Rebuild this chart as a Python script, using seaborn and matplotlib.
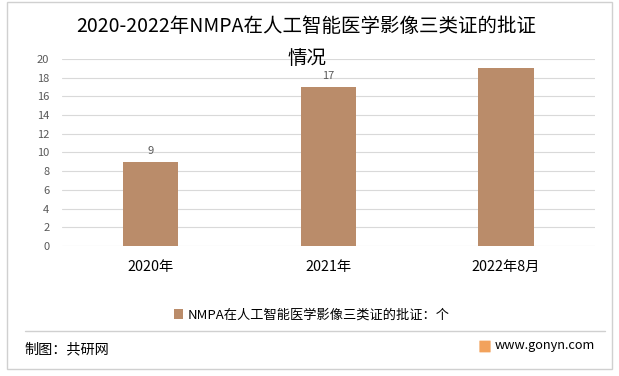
import matplotlib
matplotlib.use("Agg")
import matplotlib.pyplot as plt
import seaborn as sns
import pandas as pd
from matplotlib.patches import Rectangle, FancyBboxPatch
from matplotlib.lines import Line2D

# Data
categories = ["2020年", "2021年", "2022年8月"]
approvals = [9, 17, 19]
bar_labels = ["9", "17", ""]
series_name = "NMPA在人工智能医学影像三类证的批证：个"

sns.set_theme(style="white")
plt.rcParams["font.family"] = ["Noto Sans CJK SC", "DejaVu Sans"]

bar_color = "#BA8C6A"
grid_color = "#D9D9D9"
text_color = "#595959"

fig = plt.figure(figsize=(6.19, 3.76), dpi=100)
ax = fig.add_axes([0.100, 0.346, 0.861, 0.497])

df = pd.DataFrame({"year": categories, "value": approvals})
sns.barplot(data=df, x="year", y="value", color=bar_color, width=0.31,
            saturation=1, ax=ax, label=series_name, zorder=3, linewidth=0)

for i, (v, lab) in enumerate(zip(approvals, bar_labels)):
    if lab:
        ax.text(i, v + 0.6, lab, ha="center", va="bottom", fontsize=8, color=text_color)

ax.set_ylim(0, 20)
ax.set_yticks(range(0, 21, 2))
ax.yaxis.grid(True, color=grid_color, linewidth=0.8, zorder=0)
ax.set_axisbelow(True)
for s in ax.spines.values():
    s.set_visible(False)
ax.tick_params(axis="y", labelsize=8, colors=text_color, length=0, pad=9)
ax.tick_params(axis="x", labelsize=10.3, colors="#000000", length=0, pad=10)
ax.set_xlabel("")
ax.set_ylabel("")

fig.text(306 / 619, 1 - 27 / 376, "2020-2022年NMPA在人工智能医学影像三类证的批证",
         ha="center", va="center", fontsize=14, color="#000000")
fig.text(307 / 619, 1 - 59 / 376, "情况", ha="center", va="center", fontsize=14,
         color="#000000")

# legend
leg = ax.legend(loc="center", bbox_to_anchor=(0.469, -0.37), frameon=False,
                fontsize=9.5, handlelength=0.7, handleheight=0.7, handletextpad=0.4)
for t in leg.get_texts():
    t.set_color("#000000")

# outer frame and footer
fig.add_artist(Rectangle((7 / 619, 1 - 369 / 376), 605 / 619, 367 / 376,
                         transform=fig.transFigure, fill=False,
                         edgecolor="#D0D0D0", linewidth=1))
fig.add_artist(Line2D([25 / 619, 605 / 619], [1 - 331 / 376] * 2,
                      transform=fig.transFigure, color="#D0D0D0", linewidth=1))
fig.text(24 / 619, 1 - 349 / 376, "制图：共研网", ha="left", va="center",
         fontsize=10.2, color="#000000")
fig.text(595 / 619, 1 - 346 / 376, "www.gonyn.com", ha="right", va="center",
         fontsize=9.2, color="#000000")
fig.add_artist(FancyBboxPatch((480 / 619, 1 - 352 / 376), 10 / 619, 11 / 376,
                              boxstyle="round,pad=0.001", transform=fig.transFigure,
                              facecolor="#F2A25C", edgecolor="none"))

fig.savefig("out.png", dpi=100)
